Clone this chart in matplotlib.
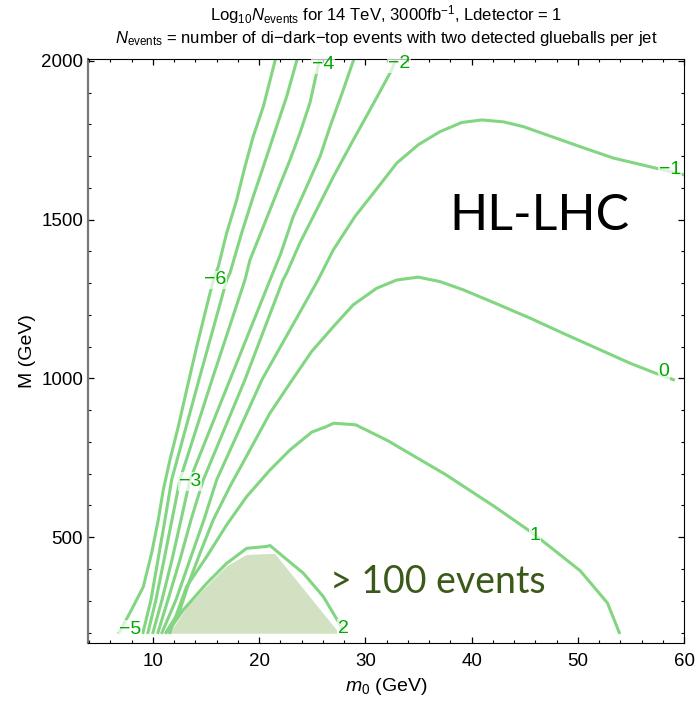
import matplotlib
matplotlib.use("Agg")
import matplotlib.pyplot as plt
from matplotlib.ticker import MultipleLocator

plt.rcParams["font.family"] = ["Liberation Sans", "DejaVu Sans"]
plt.rcParams["mathtext.fontset"] = "custom"
plt.rcParams["mathtext.rm"] = "Liberation Sans"
plt.rcParams["mathtext.it"] = "Liberation Sans:italic"

# contour lines of log10 N_events (m0 in GeV, M in GeV)
c_m6_x = [21.49, 20.39, 19.44, 18.66, 17.88, 16.94, 16.15, 15.68, 14.90, 14.11, 13.17,
          12.38, 11.60, 10.97, 10.50, 9.88, 9.09, 7.83, 7.05, 6.8]
c_m6_y = [2000, 1856, 1762, 1667, 1562, 1458, 1352, 1310, 1206, 1099, 964,
          848, 744, 649, 555, 451, 344, 262, 214, 200]
c_m5_x = [23.53, 22.59, 21.33, 20.39, 19.44, 18.35, 17.25, 16.94, 14.33, 11.76, 11.13,
          10.47, 9.81, 9.06]
c_m5_y = [2000, 1888, 1762, 1667, 1573, 1458, 1332, 1310, 996, 681, 555, 429, 303, 200]
c_m4_x = [25.66, 24.78, 23.84, 22.90, 21.65, 20.39, 19.13, 18.66, 15.56, 12.54, 11.79,
          11.04, 10.28, 9.53]
c_m4_y = [2000, 1868, 1773, 1688, 1584, 1478, 1373, 1310, 996, 681, 555, 429, 303, 200]
c_m3_x = [28.86, 27.92, 26.67, 25.73, 24.47, 23.21, 22.05, 21.02, 17.25, 13.48, 12.64,
          11.79, 10.85, 10.0]
c_m3_y = [2000, 1909, 1793, 1699, 1604, 1510, 1395, 1310, 996, 681, 555, 429, 303, 200]
c_m2_x = [32.8, 32.48, 31.06, 28.86, 26.98, 25.41, 23.84, 22.59, 22.24, 18.66, 14.74,
          13.58, 12.54, 11.41, 10.47]
c_m2_y = [2000, 1972, 1884, 1751, 1635, 1531, 1427, 1332, 1310, 996, 681, 555, 429, 303, 200]
c_m1_x = [60.0, 56.49, 53.34, 50.21, 47.07, 44.87, 42.99, 40.95, 39.07, 37.02, 34.98,
          32.95, 31.37, 29.02, 26.98, 25.54, 20.26, 16.00, 14.80, 13.48, 12.17, 10.85]
c_m1_y = [1641, 1669, 1694, 1730, 1767, 1793, 1808, 1814, 1806, 1777, 1736,
          1678, 1610, 1510, 1405, 1310, 996, 681, 555, 429, 303, 200]
c_0_x = [59.0, 57.74, 54.92, 51.78, 48.63, 45.50, 42.36, 39.22, 37.02, 34.98, 32.95,
         31.06, 28.86, 26.98, 24.94, 22.90, 21.02, 19.13, 17.25, 15.68, 14.43, 13.48,
         12.54, 11.22]
c_0_y = [996, 1011, 1048, 1095, 1142, 1190, 1235, 1279, 1305, 1319, 1310,
         1284, 1232, 1163, 1085, 985, 891, 775, 660, 555, 450, 366, 271, 200]
c_1_x = [53.9, 52.79, 50.24, 45.79, 42.14, 37.52, 32.11, 29.09, 27.02, 26.22, 24.95,
         22.90, 21.02, 18.82, 16.94, 15.06, 13.17, 11.60]
c_1_y = [200, 293, 394, 512, 597, 698, 804, 854, 859, 847, 831,
         775, 712, 628, 539, 439, 345, 200]
c_2_x = [11.41, 12.85, 15.06, 16.94, 18.82, 20.71, 21.02, 22.27, 24.15, 26.04, 27.45, 27.89]
c_2_y = [202, 271, 355, 418, 465, 471, 474, 439, 387, 313, 234, 208]

# shaded "> 100 events" region
fill_x = [11.60, 13.17, 15.06, 16.94, 18.82, 21.49, 27.30, 27.42]
fill_y = [196, 277, 345, 408, 444, 448, 208, 196]

# contour labels: text, m0, M
lab_text = ["\u22126", "\u22124", "\u22122", "\u22121", "0", "1", "2", "\u22123", "\u22125"]
lab_x = [15.84, 26.04, 33.19, 58.68, 58.12, 45.97, 27.92, 13.48, 7.83]
lab_y = [1310, 1987, 1993, 1657, 1021, 504, 213, 675, 210]

line_col = "#82d682"
lab_col = "#00a800"

fig = plt.figure(figsize=(6.96, 7.04), dpi=100)
ax = fig.add_axes([0.1264, 0.0862, 0.8564, 0.8296])

ax.fill(fill_x, fill_y, color="#d3e1c3", lw=0, zorder=1)
curves = [(c_m6_x, c_m6_y), (c_m5_x, c_m5_y), (c_m4_x, c_m4_y), (c_m3_x, c_m3_y),
          (c_m2_x, c_m2_y), (c_m1_x, c_m1_y), (c_0_x, c_0_y), (c_1_x, c_1_y),
          (c_2_x, c_2_y)]
for cx, cy in curves:
    ax.plot(cx, cy, color=line_col, lw=2.2, solid_joinstyle="round", zorder=2)

for t, x, y in zip(lab_text, lab_x, lab_y):
    ax.text(x, y, t, color=lab_col, fontsize=14, ha="center", va="center",
            zorder=3, clip_on=False,
            bbox=dict(boxstyle="square,pad=0.05", fc="white", ec="none", alpha=0.7))

ax.text(46.35, 1512, "HL-LHC", fontsize=36, family="Lato", color="black",
        ha="center", va="center")
ax.text(36.84, 359, "> 100 events", fontsize=27, family="Lato", color="#3b5a1a",
        ha="center", va="center")

ax.set_xlim(3.88, 60)
ax.set_ylim(166, 2005)
ax.xaxis.set_major_locator(MultipleLocator(10))
ax.xaxis.set_minor_locator(MultipleLocator(2))
ax.yaxis.set_major_locator(MultipleLocator(500))
ax.yaxis.set_minor_locator(MultipleLocator(100))
ax.tick_params(which="both", direction="in", top=True, right=True, labelsize=13.5)
ax.tick_params(which="major", length=4.5, width=0.9)
ax.tick_params(which="minor", length=2.5, width=0.8)
ax.tick_params(axis="x", which="major", pad=7)
ax.spines["left"].set_color("#777777")
ax.spines["left"].set_linewidth(1.6)

ax.set_xlabel("$m_0$ (GeV)", fontsize=14, labelpad=4)
ax.set_ylabel("M (GeV)", fontsize=14, labelpad=4)

fig.text(0.555, 0.979, "Log$_{10}$$N_{\\rm events}$ for 14 TeV, 3000fb$^{-1}$, Ldetector = 1",
         ha="center", va="center", fontsize=12)
fig.text(0.555, 0.946, "$N_{\\rm events}$ = number of di\u2212dark\u2212top events with two detected glueballs per jet",
         ha="center", va="center", fontsize=12)

fig.savefig("out.png", dpi=100)
